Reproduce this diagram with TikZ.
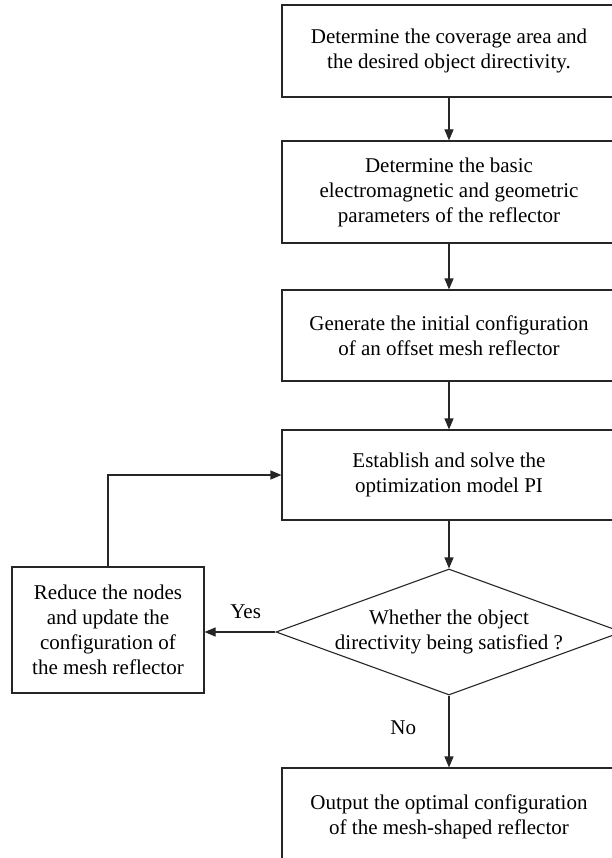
\documentclass[tikz,border=0pt]{standalone}
\usepackage{fontspec}
\setmainfont{Liberation Serif}
\usetikzlibrary{arrows.meta, shapes.geometric}

\begin{document}
\begin{tikzpicture}[
  x=1pt, y=1pt,
  %% Node styles
  pblock/.style ={draw=black!85, minimum width=334pt, align=center,
                  font=\fontsize{21}{25}\selectfont, line width=1.1pt, inner sep=0pt},
  lblock/.style ={draw=black!85, minimum width=192pt, minimum height=126pt, align=center,
                  font=\fontsize{21}{25}\selectfont, line width=1.1pt, inner sep=0pt},
  dblock/.style ={draw=black!85, diamond, minimum width=346pt, minimum height=126pt,
                  inner sep=0pt, line width=1.1pt},
  tlabel/.style ={font=\fontsize{21}{25}\selectfont},
  %% Arrows
  arr/.style  ={-{Triangle[length=11pt, width=9pt]}, line width=1.1pt, draw=black!85}
]
\useasboundingbox (0,0) rectangle (612,-858);

%% ── MAIN COLUMN ─────────────────────────────────────────────────
\node[pblock, minimum height=92pt]  (cover)  at (449, -51)
  {Determine the coverage area and\\the desired object directivity.};
\node[pblock, minimum height=102pt] (params) at (449, -192)
  {Determine the basic\\electromagnetic and geometric\\parameters of the reflector};
\node[pblock, minimum height=91pt]  (init)   at (449, -335.5)
  {Generate the initial configuration\\of an offset mesh reflector};
\node[pblock, minimum height=90pt]  (solve)  at (449, -475)
  {Establish and solve the\\optimization model PI};

\draw[arr] (cover)  -- (params);
\draw[arr] (params) -- (init);
\draw[arr] (init)   -- (solve);

%% ── DECISION ────────────────────────────────────────────────────
\node[dblock, label={[tlabel, align=center]center:Whether the object\\directivity being satisfied ?}]
  (check) at (449, -632) {};
\draw[arr] (solve) -- (check.north);

%% Yes branch: reduce nodes, back to the model
\node[lblock] (reduce) at (108, -630)
  {Reduce the nodes\\and update the\\configuration of\\the mesh reflector};
\draw[arr] (check.west) -- (check.west -| reduce.east)
  node[tlabel, pos=0.42, above=9pt] {Yes};
\draw[arr] (reduce.north) |- (solve.west);

%% No branch: output
\node[pblock, minimum height=98pt] (output) at (449, -817)
  {Output the optimal configuration\\of the mesh-shaped reflector};
\draw[arr] (check.south) -- (output.north) node[tlabel, pos=0.45, left=29pt] {No};

\end{tikzpicture}
\end{document}
